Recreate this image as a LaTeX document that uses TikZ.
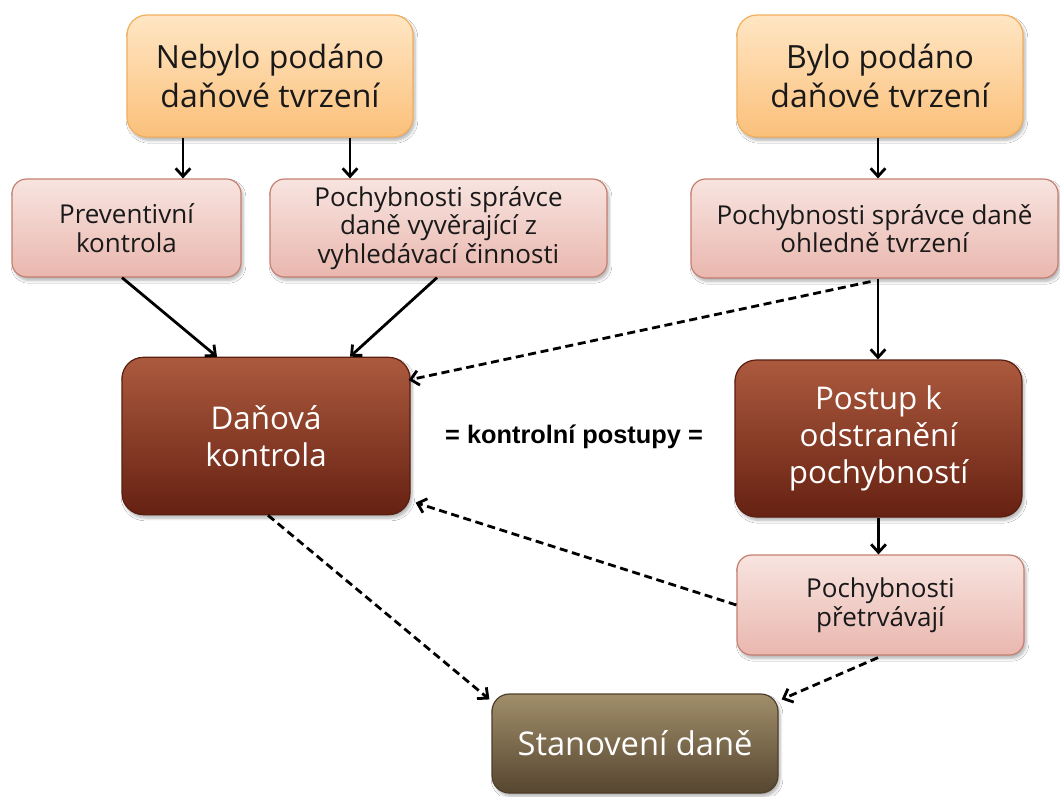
\documentclass[tikz,border=0pt]{standalone}
\usepackage{fontspec}
\setmainfont{Open Sans}
\newfontfamily\lab{Liberation Sans}
\usetikzlibrary{arrows.meta,shadows.blur}
\definecolor{orTop}{HTML}{FFE6C4}
\definecolor{orBot}{HTML}{FBC07A}
\definecolor{orLine}{HTML}{F3AE5C}
\definecolor{pkTop}{HTML}{F8E4E0}
\definecolor{pkBot}{HTML}{E9B7AE}
\definecolor{pkLine}{HTML}{C57E70}
\definecolor{brTop}{HTML}{AC5A3E}
\definecolor{brBot}{HTML}{662112}
\definecolor{brLine}{HTML}{5A1E10}
\definecolor{olTop}{HTML}{A08E6A}
\definecolor{olBot}{HTML}{574630}
\definecolor{olLine}{HTML}{4E3F2A}
\def\u{0.75pt}
\tikzset{
  x=0.75pt, y=-0.75pt,
  box/.style={rectangle, align=center, line width=0.9pt, inner sep=0pt,
    blur shadow={shadow xshift=1.5pt, shadow yshift=-2.5pt, shadow opacity=30, shadow blur steps=6}},
  orbox/.style={box, rounded corners=15pt, draw=orLine, top color=orTop, bottom color=orBot,
    text=black!90, font=\fontsize{24}{29}\selectfont,
    minimum width=214.5pt, minimum height=91.5pt},
  pkbox/.style={box, rounded corners=11pt, draw=pkLine, top color=pkTop, bottom color=pkBot,
    text=black!90, font=\fontsize{19.5}{21.5}\selectfont, minimum height=73.5pt},
  brbox/.style={box, rounded corners=16pt, draw=brLine, top color=brTop, bottom color=brBot,
    text=white, font=\fontsize{23.5}{28}\selectfont, minimum width=216pt, minimum height=118pt},
  olbox/.style={box, rounded corners=13pt, draw=olLine, top color=olTop, bottom color=olBot,
    text=white, font=\fontsize{24.5}{29}\selectfont, minimum width=214.5pt, minimum height=74.25pt},
  conn/.style={line width=2.1pt, -{Straight Barb[length=6pt,width=11pt]}},
  dconn/.style={conn, dash pattern=on 6pt off 3.5pt}
}
\begin{document}
\begin{tikzpicture}
\useasboundingbox (0,0) rectangle (1060,796);
\fill[white] (0,0) rectangle (1060,796);

\node[orbox] (b1) at (270,76) {Nebylo podáno\\daňové tvrzení};
\node[orbox] (b2) at (880,76) {Bylo podáno\\daňové tvrzení};

\node[pkbox, minimum width=171.75pt] (b3) at (126.5,228) {Preventivní\\kontrola};
\node[pkbox, minimum width=252.75pt] (b4) at (438.5,228) {Pochybnosti správce\\daně vyvěrající z\\vyhledávací činnosti};
\node[pkbox, minimum width=275.25pt, minimum height=74.25pt] (b5) at (874.5,228.5) {Pochybnosti správce daně\\ohledně tvrzení};

\node[brbox] (b6) at (266,436) {Daňová\\kontrola};
\node[brbox, minimum width=215.25pt, minimum height=117.75pt] (b7) at (878.5,438.5) {Postup k\\odstranění\\pochybností};

\node[pkbox, minimum width=215.25pt, minimum height=75pt] (b8) at (880.5,605) {Pochybnosti\\přetrvávají};

\node[olbox] (b9) at (635,743.5) {Stanovení daně};

\node[font=\lab\bfseries\fontsize{19}{22}\selectfont] (lbl) at (574,437) {= kontrolní postupy =};

% solid connectors
\draw[conn] ([xshift=-87*\u]b1.south) -- ([xshift=-87*\u]b1.south |- b3.north);
\draw[conn] ([xshift=80*\u]b1.south) -- ([xshift=80*\u]b1.south |- b4.north);
\draw[conn] ([xshift=-2*\u]b2.south) -- ([xshift=-2*\u]b2.south |- b5.north);
\draw[conn] ([xshift=-4.5*\u]b3.south) -- ([xshift=-49*\u]b6.north);
\draw[conn] ([xshift=-1.5*\u]b4.south) -- ([xshift=84*\u]b6.north);
\draw[conn] ([xshift=3.5*\u]b5.south) -- ([xshift=3.5*\u]b5.south |- b7.north);
\draw[conn] (b7.south) -- (b7.south |- b8.north);

% dashed connectors
\draw[dconn] ([xshift=-4*\u, yshift=-3*\u]b5.south) -- ([xshift=-2*\u, yshift=42pt]b6.east);
\draw[dconn] (b8.west) -- ([xshift=5*\u, yshift=-50pt]b6.east);
\draw[dconn] ([xshift=2*\u]b6.south) -- ([xshift=-2*\u, yshift=-4.5pt]b9.north west);
\draw[dconn] ([xshift=-2.5*\u, yshift=-2*\u]b8.south) -- ([xshift=3*\u, yshift=-4.5pt]b9.north east);
\end{tikzpicture}
\end{document}
